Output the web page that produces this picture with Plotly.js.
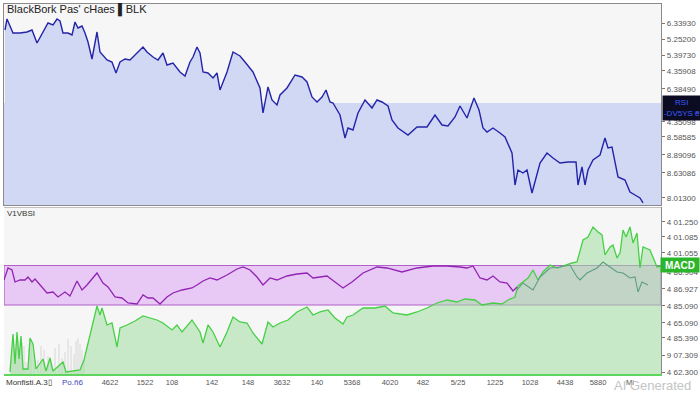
<!DOCTYPE html>
<html>
<head>
<meta charset="utf-8">
<script src="https://cdn.plot.ly/plotly-3.0.1.min.js"></script>
<style>html,body{margin:0;padding:0;background:#fff;}#chart{width:700px;height:393px;}</style>
</head>
<body>
<div id="chart"></div>
<script>
// ---- price panel (BLK) ----
const priceDays = [1,3,9,16,23,28,33,39,44,49,53,56,59,64,68,71,74,78,81,84,88,93,96,103,108,112,116,121,126,133,139,143,149,154,159,163,169,176,181,186,189,193,196,199,204,209,213,216,223,229,236,241,249,256,259,264,268,273,276,283,291,298,303,308,313,318,322,326,329,336,341,344,349,354,361,368,373,378,384,388,394,404,413,423,431,438,444,451,456,463,470,475,479,483,489,496,501,508,511,514,519,523,528,536,543,549,556,564,572,574,578,581,584,589,596,601,604,608,611,614,621,626,631,636,639];
const priceVals = [175,186,172,172,173,175,162,173,182,180,186,184,172,172,170,183,177,179,172,163,146,173,153,145,143,132,143,146,145,152,158,153,148,145,152,140,142,133,129,143,148,158,152,133,132,127,132,115,133,153,149,143,133,117,92,118,105,100,110,117,130,128,123,108,103,108,115,103,102,90,67,77,75,92,105,97,105,103,99,85,77,70,78,78,90,80,79,88,99,87,107,95,77,73,77,72,68,52,20,35,32,35,12,42,52,47,42,43,43,20,38,20,35,45,50,67,57,58,43,28,25,13,10,7,2];
const priceFloor = 102;
const priceTickVals = [182,166,150,134,116,83,68,50,32,7];
const priceTickText = ["6.33930","5.25200","5.39730","4.35908","6.38490","4.35098","8.58585","8.89096","8.63086","8.01300"];

// ---- indicator panel ----
const rsiDays = [0,4,8,11,16,21,24,28,31,36,43,49,54,61,66,73,78,83,93,99,104,111,118,124,133,139,144,149,156,163,169,178,188,193,199,206,213,223,233,239,246,253,259,266,273,283,293,303,309,316,323,331,339,348,359,373,383,398,413,429,443,456,463,469,476,483,489,496,503,509,513];
const rsiVals = [94,106,104,92,94,94,97,92,95,89,81,82,77,82,78,93,84,89,101,91,87,77,76,71,70,79,76,76,70,77,81,84,86,89,93,96,94,99,105,107,104,97,89,96,94,98,100,101,96,97,98,92,86,92,101,107,106,102,106,108,108,107,106,108,96,94,98,92,91,83,87];
const rsiBand = [69,108.5];

const macdDays = [6,9,11,13,15,17,19,24,26,29,32,39,42,46,49,59,62,76,80,83,88,93,96,98,103,108,113,116,123,131,139,146,153,159,168,173,178,188,196,199,204,209,216,223,229,236,243,249,258,264,269,276,284,293,303,309,316,324,331,339,343,349,359,371,381,389,403,413,423,433,443,453,461,471,478,489,498,504,511,514,519,524,529,534,539,546,553,561,568,573,579,584,589,594,598,601,606,609,613,616,619,622,626,629,633,636,639,646,653,657];
const macdVals = [2,40,10,42,15,38,5,5,36,30,5,15,3,16,3,12,2,4,14,27,47,68,59,66,49,51,27,46,49,53,58,56,54,51,44,49,42,54,42,31,49,42,27,42,57,52,51,41,30,52,47,51,54,62,67,59,62,64,56,50,57,59,66,66,68,61,59,62,66,71,74,72,75,74,69,71,70,74,77,88,92,96,104,94,102,109,106,109,111,112,134,137,147,142,139,119,127,129,116,121,144,137,147,131,141,106,127,124,107,108];

const signalDays = [513,519,529,536,546,556,566,573,576,583,593,599,606,613,619,626,631,634,638,644];
const signalVals = [84,91,84,97,106,107,109,97,94,101,106,112,107,102,101,96,97,82,92,89];

const volDays = [8,10,12,14,16,18,20,22,25,27,30,34,37,40,44,47,51,55,58,61,64,67,70,72,74,76,78,80];
const volVals = [18,30,26,34,22,31,28,12,25,33,20,14,28,24,18,12,26,30,16,22,35,28,20,33,36,30,24,14];

const indTickVals = [152,137,121,102,85,68,51,36,19,2];
const indTickText = ["4 01.250","4 01.085","4 01.055","4 86.904","4 86.927","4 85.090","4 65.090","4 85.390","9 07.309","4 62.300"];

const dayTickVals = [106,141,168,208,244,278,313,348,386,419,454,491,526,561,594,626];
const dayTickText = ["4622","1522","108","142","148","3632","140","5368","4020","482","5/25","1225","1028","4438","5880","Mi"];

// teal overlap: part of band lying under the MACD curve
const tealTop = macdVals.map(v => Math.max(rsiBand[0], Math.min(v, rsiBand[1])));
const tealBase = macdVals.map(() => rsiBand[0]);

const traces = [
  {x: priceDays, y: priceVals, xaxis:'x', yaxis:'y', mode:'lines', fill:'tozeroy',
   fillcolor:'#d0d8f4', line:{color:'#2424a8', width:1.4}, hoverinfo:'skip'},
  {x: volDays, y: volVals, xaxis:'x2', yaxis:'y2', type:'bar', width:0.7,
   marker:{color:'rgba(150,150,150,0.45)'}, hoverinfo:'skip'},
  {x: macdDays, y: macdVals, xaxis:'x2', yaxis:'y2', mode:'none', fill:'tozeroy',
   fillcolor:'rgba(160,222,160,0.55)', hoverinfo:'skip'},
  {x: macdDays, y: tealBase, xaxis:'x2', yaxis:'y2', mode:'none', hoverinfo:'skip'},
  {x: macdDays, y: tealTop, xaxis:'x2', yaxis:'y2', mode:'none', fill:'tonexty',
   fillcolor:'#78cfa8', hoverinfo:'skip'},
  {x: macdDays, y: macdVals, xaxis:'x2', yaxis:'y2', mode:'lines',
   line:{color:'#46d046', width:1.3}, hoverinfo:'skip'},
  {x: signalDays, y: signalVals, xaxis:'x2', yaxis:'y2', mode:'lines',
   line:{color:'#5f9f80', width:1.1}, hoverinfo:'skip'},
  {x: rsiDays, y: rsiVals, xaxis:'x2', yaxis:'y2', mode:'lines',
   line:{color:'#9224b4', width:1.3}, hoverinfo:'skip'}
];

const tickFont = {family:'Liberation Sans, Arial, sans-serif', size:8, color:'#555'};
const layout = {
  width:700, height:393,
  margin:{l:4, r:39, t:4, b:19},
  paper_bgcolor:'#ffffff', plot_bgcolor:'#f6f6f6',
  showlegend:false,
  xaxis:{domain:[0,1], range:[0,657], anchor:'y', showticklabels:false, showgrid:false,
         zeroline:false, showline:true, mirror:true, linecolor:'#8a8a8a', linewidth:1.2, ticks:''},
  yaxis:{domain:[0.4568,1], range:[0,201], side:'right', anchor:'x', showgrid:false, zeroline:false,
         showline:true, mirror:true, linecolor:'#8a8a8a', linewidth:1.2,
         tickmode:'array', tickvals:priceTickVals, ticktext:priceTickText,
         ticks:'outside', ticklen:3, tickcolor:'#777', tickfont:tickFont},
  xaxis2:{domain:[0,1], range:[0,657], anchor:'y2', showgrid:false, zeroline:false,
          showline:true, linecolor:'#5ed65e', linewidth:2,
          tickmode:'array', tickvals:dayTickVals, ticktext:dayTickText,
          ticks:'', tickfont:{family:'Liberation Sans, Arial, sans-serif', size:7.5, color:'#555'}},
  yaxis2:{domain:[0,0.4514], range:[0,167], side:'right', anchor:'x2', showgrid:false, zeroline:false,
          showline:true, linecolor:'#8a8a8a', linewidth:1.2,
          tickmode:'array', tickvals:indTickVals, ticktext:indTickText,
          ticks:'outside', ticklen:3, tickcolor:'#777', tickfont:tickFont},
  shapes:[
    {type:'rect', xref:'x', yref:'y', x0:0, x1:657, y0:0, y1:priceFloor,
     fillcolor:'#d0d8f4', line:{width:0}, layer:'below'},
    {type:'rect', xref:'x2', yref:'y2', x0:0, x1:657, y0:rsiBand[0], y1:rsiBand[1],
     fillcolor:'#e8c8f4', line:{color:'#b060c8', width:1.2}, layer:'below'},
    {type:'line', xref:'paper', yref:'y2', x0:0, x1:1, y0:167, y1:167,
     line:{color:'#8a8a8a', width:1.2}}
  ],
  annotations:[
    {xref:'paper', yref:'paper', x:0, y:0.984, xanchor:'left', yanchor:'middle', xshift:1,
     text:"BlackBork Pas' cHaes ▌BLK", showarrow:false,
     font:{family:'Liberation Sans, Arial, sans-serif', size:11, color:'#222'}},
    {xref:'paper', yref:'paper', x:0, y:0.435, xanchor:'left', yanchor:'middle', xshift:1,
     text:'V1VBSI', showarrow:false,
     font:{family:'Liberation Sans, Arial, sans-serif', size:8, color:'#333'}},
    {xref:'paper', yref:'y', x:1, y:96.5, xanchor:'left', yanchor:'middle', xshift:1,
     text:'RSI<br>-DV5YS ₴', showarrow:false, bgcolor:'#0b0b22', width:36, height:22,
     font:{family:'Liberation Sans, Arial, sans-serif', size:8, color:'#3a5cff'}},
    {xref:'paper', yref:'y2', x:1, y:109, xanchor:'left', yanchor:'middle', xshift:-1,
     text:'<b>MACD</b>', showarrow:false, bgcolor:'#2ab52a', width:36, height:12,
     font:{family:'Liberation Sans, Arial, sans-serif', size:10, color:'#ffffff'}},
    {xref:'paper', yref:'paper', x:0, y:-0.024, xanchor:'left', yanchor:'middle', xshift:0,
     text:'Monfisti.A.3▯', showarrow:false,
     font:{family:'Liberation Sans, Arial, sans-serif', size:8, color:'#333'}},
    {xref:'paper', yref:'paper', x:0, y:-0.024, xanchor:'left', yanchor:'middle', xshift:56,
     text:'Po.ñ6', showarrow:false,
     font:{family:'Liberation Sans, Arial, sans-serif', size:8, color:'#4048c0'}},
    {xref:'paper', yref:'paper', x:1, y:-0.03, xanchor:'right', yanchor:'middle', xshift:32,
     text:'AI Generated', showarrow:false,
     font:{family:'Liberation Sans, Arial, sans-serif', size:13, color:'#c4c4c4'}}
  ]
};

Plotly.newPlot('chart', traces, layout, {displayModeBar:false, staticPlot:true});
</script>
</body>
</html>
